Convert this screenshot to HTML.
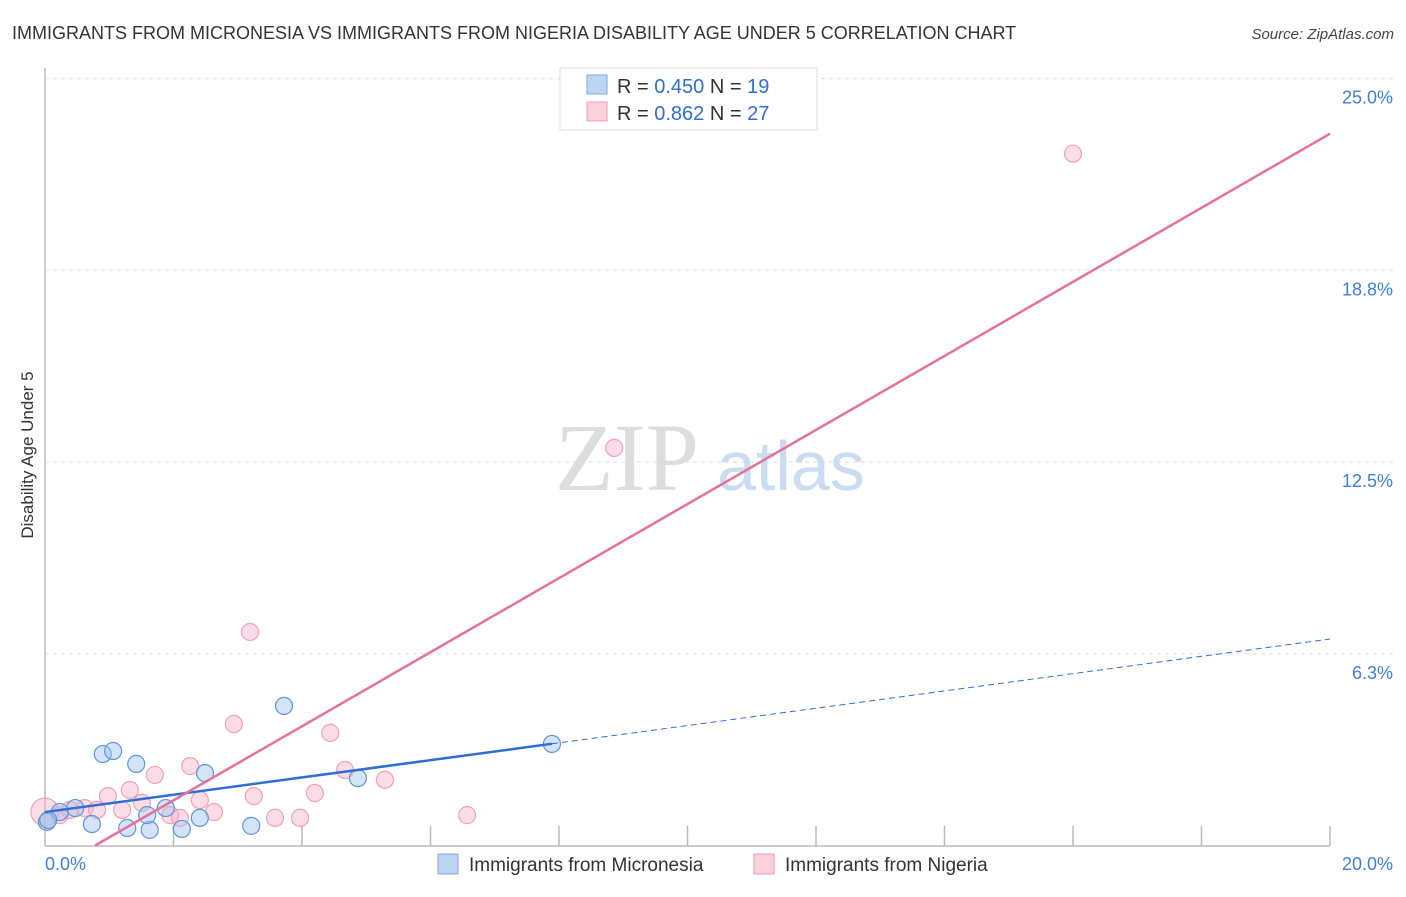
<!DOCTYPE html>
<html><head><meta charset="utf-8"><style>
body{margin:0;background:#fff;font-family:"Liberation Sans",sans-serif;}
</style></head><body>
<svg id="chart" width="1406" height="892" xmlns="http://www.w3.org/2000/svg" font-family="Liberation Sans, sans-serif">
<text x="12" y="39" font-size="18" fill="#333">IMMIGRANTS FROM MICRONESIA VS IMMIGRANTS FROM NIGERIA DISABILITY AGE UNDER 5 CORRELATION CHART</text>
<text x="1394" y="39" font-size="15" font-style="italic" fill="#444" text-anchor="end">Source: ZipAtlas.com</text>
<text transform="translate(33,455) rotate(-90)" font-size="17" fill="#333" text-anchor="middle">Disability Age Under 5</text>
<g id="grid"></g>
<text x="555" y="490" font-size="96" font-family="Liberation Serif, serif" fill="#ddd">ZIP</text>
<text x="717" y="490" font-size="70" fill="#c9dcf2">atlas</text>
<g id="marks"></g>
<g>
<rect x="560" y="68" width="257" height="62" fill="#fff" stroke="#ddd"/>
<rect x="587" y="75" width="20" height="19" fill="#bcd5f5" stroke="#7aa6e0"/>
<rect x="587" y="102" width="20" height="19" fill="#fcd0dc" stroke="#f09ab3"/>
<text x="617" y="93" font-size="20" fill="#333">R = <tspan fill="#2f6fd0">0.450</tspan>   N = <tspan fill="#2f6fd0"> 19</tspan></text>
<text x="617" y="120" font-size="20" fill="#333">R =  <tspan fill="#2f6fd0">0.862</tspan>   N = <tspan fill="#2f6fd0">27</tspan></text>
</g>
<g>
<rect x="438" y="854" width="20" height="20" fill="#bcd5f5" stroke="#7aa6e0"/>
<text x="469" y="871" font-size="19" fill="#333">Immigrants from Micronesia</text>
<rect x="754" y="854" width="20" height="20" fill="#fcd0dc" stroke="#f09ab3"/>
<text x="785" y="871" font-size="19" fill="#333">Immigrants from Nigeria</text>
</g>
</svg>
<script>
const yTicks=[6.25,12.5,18.75,25];
const yTickLabels=["6.3%","12.5%","18.8%","25.0%"];
const xTickVals=[2,4,6,8,10,12,14,16,18,20];
const blueX=[0.03,0.23,0.47,0.73,0.90,1.06,1.28,1.42,1.63,1.59,1.88,2.13,2.41,2.49,3.21,3.72,4.87,7.89,0.05];
const blueY=[0.77,1.09,1.22,0.70,2.98,3.08,0.57,2.66,0.51,0.99,1.22,0.54,0.90,2.36,0.64,4.55,2.20,3.31,0.83];
const pinkX=[0,0.23,0.39,0.62,0.81,0.98,1.20,1.32,1.51,1.71,1.95,2.10,2.26,2.41,2.63,2.94,3.19,3.25,3.58,3.97,4.20,4.44,4.67,5.29,6.57,8.86,16.0];
const pinkY=[1.09,0.99,1.16,1.22,1.16,1.61,1.16,1.81,1.39,2.30,0.99,0.90,2.59,1.48,1.09,3.96,6.96,1.61,0.90,0.90,1.71,3.67,2.46,2.14,0.99,12.96,22.55];
const blueLine=[1.09,6.73]; // y at x=0 and x=20
const pinkLine=[0.78,23.2]; // x-intercept, y at x=20
const NS="http://www.w3.org/2000/svg";
const sx=v=>45+v*64.25, sy=v=>845.5-v*30.68;
function mk(tag,attrs,parent){const e=document.createElementNS(NS,tag);for(const k in attrs)e.setAttribute(k,attrs[k]);parent.appendChild(e);return e;}
const grid=document.getElementById('grid'), marks=document.getElementById('marks');
let ax=mk('line',{x1:45,y1:68,x2:45,y2:846,stroke:'#bbb','stroke-width':1.5},grid);

let bx=mk('line',{x1:45,y1:846,x2:1330,y2:846,stroke:'#bbb','stroke-width':1.5},grid);

yTicks.forEach((t,i)=>{
 let g=mk('line',{x1:45,y1:sy(t),x2:1395,y2:sy(t),stroke:'#ddd','stroke-dasharray':'4,4'},grid);
 
 let l=mk('text',{x:1393,y:sy(t)+25,'font-size':18,fill:'#3f7fd8','text-anchor':'end'},grid);l.textContent=yTickLabels[i];
 
});
xTickVals.forEach(t=>{let l=mk('line',{x1:sx(t),y1:826,x2:sx(t),y2:846,stroke:'#bbb','stroke-width':1.5},grid);
 });
let x0=mk('text',{x:45,y:870,'font-size':18,fill:'#3f7fd8'},grid);x0.textContent='0.0%';

let x1=mk('text',{x:1393,y:870,'font-size':18,fill:'#3f7fd8','text-anchor':'end'},grid);x1.textContent='20.0%';

pinkX.forEach((x,i)=>{let c=mk('circle',{cx:sx(x),cy:sy(pinkY[i]),r:i==0?14:8.5,fill:'rgba(248,180,200,0.45)',stroke:'#f0a0b8','stroke-width':1.2},marks);
 });
blueX.forEach((x,i)=>{let c=mk('circle',{cx:sx(x),cy:sy(blueY[i]),r:8.5,fill:'rgba(160,195,240,0.45)',stroke:'#5d95dc','stroke-width':1.2},marks);
 });
const bAt=x=>blueLine[0]+(blueLine[1]-blueLine[0])*x/20;
let bl=mk('line',{x1:sx(0),y1:sy(bAt(0)),x2:sx(7.89),y2:sy(bAt(7.89)),stroke:'#2e6fd6','stroke-width':2.5},marks);

let bd=mk('line',{x1:sx(7.89),y1:sy(bAt(7.89)),x2:sx(20),y2:sy(bAt(20)),stroke:'#2e6fd6','stroke-width':1,'stroke-dasharray':'6,4'},marks);

let pl=mk('line',{x1:sx(pinkLine[0]),y1:sy(0),x2:sx(20),y2:sy(pinkLine[1]),stroke:'#e8709a','stroke-width':2.5},marks);

</script>
</body></html>
